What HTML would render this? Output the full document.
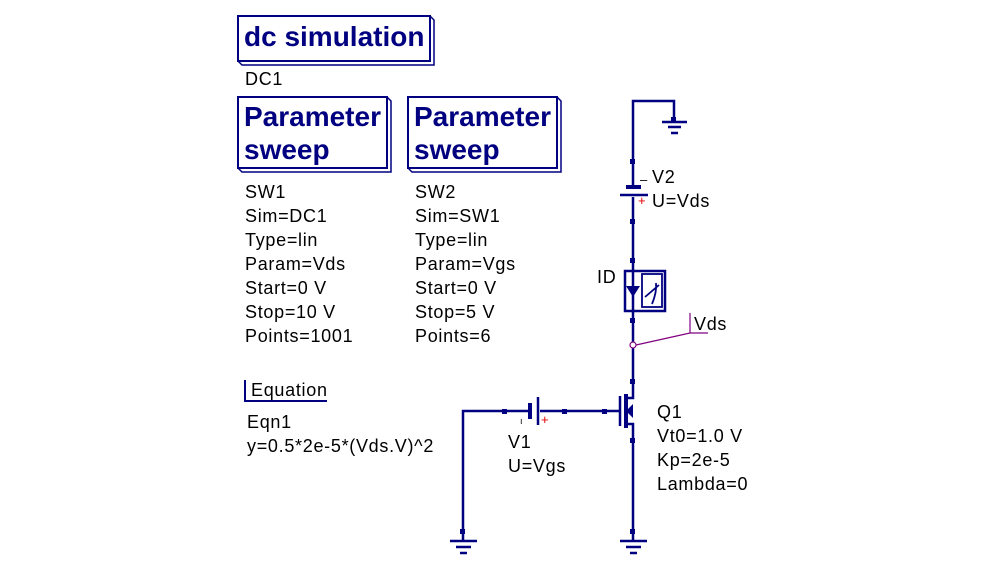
<!DOCTYPE html>
<html><head><meta charset="utf-8"><style>
html,body{margin:0;padding:0;background:#fff;}
svg{display:block;}
text{font-family:"Liberation Sans",sans-serif;font-size:18px;fill:#000;letter-spacing:0.7px;}
.b{font-weight:bold;fill:#000080;font-size:28px;letter-spacing:0;}
</style></head><body>
<svg width="993" height="577" viewBox="0 0 993 577">
<g fill="none" stroke="#000080" stroke-width="2">
<rect x="238" y="16" width="192" height="45"/>
<polyline points="430,16 434,20 434,65 242,65 238,61" stroke-width="1.5"/>
<rect x="238" y="97" width="149" height="71"/>
<polyline points="387,97 391,101 391,172 242,172 238,168" stroke-width="1.5"/>
<rect x="408" y="97" width="149" height="71"/>
<polyline points="557,97 561,101 561,172 412,172 408,168" stroke-width="1.5"/>
<polyline points="245,380 245,401 327,401"/>
</g>
<g fill="none" stroke="#000080" stroke-width="2.5">
<polyline points="633,185 633,101 674,101 674,121"/>
<line x1="662" y1="122" x2="687" y2="122"/>
<line x1="668" y1="127" x2="681" y2="127"/>
<line x1="671" y1="133" x2="678" y2="133"/>
<line x1="633" y1="197" x2="633" y2="342"/>
<line x1="620" y1="195" x2="648" y2="195"/>
<line x1="626" y1="187" x2="641" y2="187" stroke-width="4"/>
<rect x="625" y="271" width="40" height="40"/>
<rect x="642" y="274" width="20" height="33" stroke-width="1.8"/>
<path d="M645,297 L659,285 M652,304 Q657,292 656,283" stroke-width="1.8"/>
<polyline points="633,348 633,398 625,398"/>
<polyline points="625,424 633,424 633,540"/>
<line x1="625" y1="411" x2="633" y2="411"/>
<line x1="626" y1="394" x2="626" y2="428" stroke-width="4"/>
<line x1="620" y1="396" x2="620" y2="426"/>
<line x1="540" y1="411" x2="619" y2="411"/>
<polyline points="528,411 463,411 463,540"/>
<line x1="530" y1="403" x2="530" y2="419" stroke-width="4"/>
<line x1="538" y1="397" x2="538" y2="425"/>
<line x1="620" y1="541" x2="647" y2="541"/>
<line x1="626" y1="547" x2="641" y2="547"/>
<line x1="630" y1="553" x2="637" y2="553"/>
<line x1="450" y1="541" x2="477" y2="541"/>
<line x1="456" y1="547" x2="471" y2="547"/>
<line x1="460" y1="553" x2="467" y2="553"/>
</g>
<g fill="#000080">
<polygon points="626,286 640,286 633,297"/>
<polygon points="626,411 633,404 633,418"/>
<rect x="671" y="117" width="5" height="5"/>
<rect x="630" y="159" width="5" height="5"/><rect x="630" y="219" width="5" height="5"/>
<rect x="630" y="258" width="5" height="5"/><rect x="630" y="318" width="5" height="5"/>
<rect x="630" y="379" width="5" height="5"/><rect x="630" y="438" width="5" height="5"/>
<rect x="630" y="529" width="5" height="5"/><rect x="460" y="529" width="5" height="5"/>
<rect x="502" y="409" width="5" height="5"/><rect x="562" y="409" width="5" height="5"/>
<rect x="602" y="409" width="5" height="5"/>
</g>
<g fill="none" stroke="#800080" stroke-width="1.2">
<circle cx="633" cy="345" r="3"/>
<polyline points="636,345 690,333 708,333"/>
<line x1="690" y1="313" x2="690" y2="333"/>
</g>
<text class="b" x="244" y="46">dc simulation</text>
<text x="245" y="85">DC1</text>
<text class="b" x="244" y="126">Parameter</text><text class="b" x="244" y="159">sweep</text>
<text class="b" x="414" y="126">Parameter</text><text class="b" x="414" y="159">sweep</text>
<text x="245" y="198">SW1</text><text x="245" y="222">Sim=DC1</text><text x="245" y="246">Type=lin</text>
<text x="245" y="270">Param=Vds</text><text x="245" y="294">Start=0 V</text><text x="245" y="318">Stop=10 V</text>
<text x="245" y="342">Points=1001</text>
<text x="415" y="198">SW2</text><text x="415" y="222">Sim=SW1</text><text x="415" y="246">Type=lin</text>
<text x="415" y="270">Param=Vgs</text><text x="415" y="294">Start=0 V</text><text x="415" y="318">Stop=5 V</text>
<text x="415" y="342">Points=6</text>
<text x="251" y="396">Equation</text>
<text x="247" y="428">Eqn1</text>
<text x="247" y="452">y=0.5*2e-5*(Vds.V)^2</text>
<text x="652" y="183">V2</text><text x="652" y="207">U=Vds</text>
<text x="640" y="184" style="font-size:13px">–</text>
<text x="638" y="205" style="font-size:13px;fill:#e00000">+</text>
<text x="597" y="283">ID</text>
<text x="694" y="330">Vds</text>
<text x="508" y="448">V1</text><text x="508" y="472">U=Vgs</text>
<text x="520" y="424" style="font-size:9px">ı</text>
<text x="541" y="424" style="font-size:13px;fill:#e00000">+</text>
<text x="657" y="418">Q1</text><text x="657" y="442">Vt0=1.0 V</text>
<text x="657" y="466">Kp=2e-5</text><text x="657" y="490">Lambda=0</text>
</svg>
</body></html>
